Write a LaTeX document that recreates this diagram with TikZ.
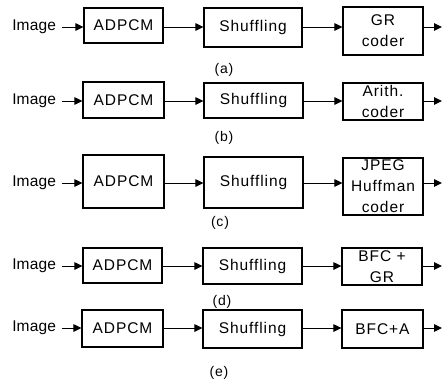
\documentclass[tikz,border=0pt]{standalone}
\usepackage{fontspec}
\setmainfont{Liberation Sans}[LetterSpace=6]
\usetikzlibrary{arrows.meta}
\tikzset{
  box/.style={draw, line width=1.1pt, inner sep=0pt, align=center,
    font=\fontsize{15.5}{21}\selectfont},
  lbl/.style={inner sep=0pt, anchor=east, outer xsep=6pt,
    font=\fontsize{15.5}{18}\selectfont\addfontfeature{LetterSpace=1}},
  sublabel/.style={inner sep=0pt, font=\fontsize{14}{16}\selectfont},
  arr/.style={line width=1pt, -{Triangle[length=8pt,width=7.5pt]}},
}
% box from corners: #1 name, x1,x2,y1,y2, text
\newcommand{\mybox}[6]{%
  \node[box, minimum width={(#3-#2)*1pt}, minimum height={(#5-#4)*1pt}]
    (#1) at ({(#2+#3)/2},{(#4+#5)/2}) {#6};}
\begin{document}
\begin{tikzpicture}[x=1pt,y=-1pt]
\useasboundingbox (0,0) rectangle (443,380);
% row a
\node[lbl] (ia) at (62,27) {Image};
\coordinate (ra) at (0,27);
\mybox{aa}{84}{163}{8}{43}{ADPCM}
\mybox{sa}{204}{302}{8}{47}{Shuffling}
\mybox{ca}{343}{423}{7}{55}{GR\\coder}
\coordinate (oa) at (442,27);
\node[sublabel] (la) at (224,70) {(a)};
% row b
\node[lbl] (ib) at (62,101) {Image};
\coordinate (rb) at (0,101);
\mybox{ab}{83}{164}{82}{118}{ADPCM}
\mybox{sb}{204}{303}{83}{118}{Shuffling}
\mybox{cb}{343}{423}{83}{120}{Arith.\\coder}
\coordinate (ob) at (442,101);
\node[sublabel] (lb) at (224,138) {(b)};
% row c
\node[lbl] (ic) at (62,183) {Image};
\coordinate (rc) at (0,183);
\mybox{ac}{83}{164}{155}{208}{ADPCM}
\mybox{sc}{204}{303}{157}{208}{Shuffling}
\mybox{cc}{343}{423}{158}{215}{\fontsize{15.5}{19}\selectfont JPEG\\Huffman\\coder}
\coordinate (oc) at (442,183);
\node[sublabel] (lc) at (220,223) {(c)};
% row d
\node[lbl] (id) at (62,266) {Image};
\coordinate (rd) at (0,266);
\mybox{ad}{83}{162}{248}{283}{ADPCM}
\mybox{sd}{203}{302}{248}{284}{Shuffling}
\mybox{cd}{342}{422}{248}{285}{BFC +\\GR}
\coordinate (od) at (442,266);
\node[sublabel] (ld) at (222,302) {(d)};
% row e
\node[lbl] (ie) at (62,328) {Image};
\coordinate (re) at (0,328);
\mybox{ae}{82}{163}{310}{347}{ADPCM}
\mybox{se}{203}{302}{310}{348}{Shuffling}
\mybox{ce}{342}{423}{310}{348}{BFC+A}
\coordinate (oe) at (442,328);
\node[sublabel] (le) at (219,373) {(e)};
% connectors
\foreach \r in {a,b,c,d,e}{
  \draw[arr] (i\r.east) -- (a\r.west |- r\r);
  \draw[arr] (a\r.east |- r\r) -- (s\r.west |- r\r);
  \draw[arr] (s\r.east |- r\r) -- (c\r.west |- r\r);
  \draw[arr] (c\r.east |- r\r) -- (o\r);
}
\end{tikzpicture}
\end{document}
